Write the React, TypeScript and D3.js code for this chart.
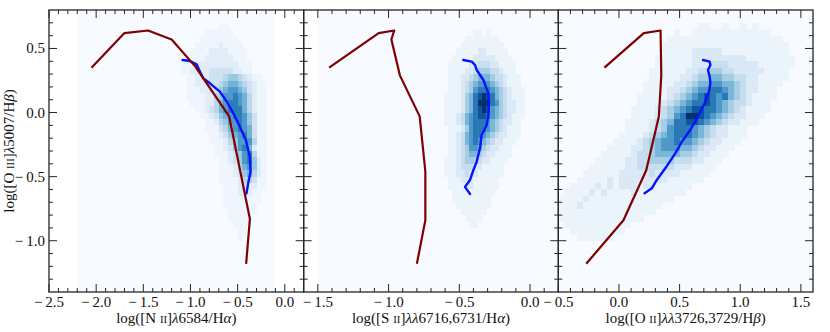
import React from "react";
import * as d3 from "d3";

// ---------------- data ----------------
const Y_DOMAIN = [-1.4, 0.8];
const Y_MAJOR = [-1.0, -0.5, 0.0, 0.5];

const XDOM_NII = [-2.5, 0.2];
const XDOM_SII = [-1.6, 0.2];
const XDOM_OII = [-0.5, 1.6];
const XMAJ_NII = [-2.5, -2.0, -1.5, -1.0, -0.5, 0.0];
const XMAJ_SII = [-1.5, -1.0, -0.5, 0.0];
const XMAJ_OII = [-0.5, 0.0, 0.5, 1.0, 1.5];

// photoionisation model tracks (dark red)
const NII_MODEL_X = [-2.05, -1.70, -1.45, -1.20, -0.95, -0.59, -0.37, -0.41];
const NII_MODEL_Y = [0.35, 0.62, 0.64, 0.57, 0.36, -0.03, -0.83, -1.18];
const SII_MODEL_X = [-1.42, -1.07, -0.96, -0.98, -0.92, -0.78, -0.74, -0.74, -0.80];
const SII_MODEL_Y = [0.35, 0.62, 0.64, 0.57, 0.29, -0.03, -0.46, -0.84, -1.18];
const OII_MODEL_X = [-0.12, 0.205, 0.343, 0.349, 0.329, 0.225, 0.037, -0.27];
const OII_MODEL_Y = [0.35, 0.62, 0.64, 0.29, -0.03, -0.45, -0.84, -1.18];

// running medians (blue)
const NII_MEDIAN_X = [-1.084, -1.006, -0.935, -0.908, -0.865, -0.794, -0.689, -0.611, -0.54, -0.477, -0.413, -0.371, -0.363, -0.385, -0.406];
const NII_MEDIAN_Y = [0.41, 0.402, 0.376, 0.332, 0.267, 0.228, 0.163, 0.08, -0.014, -0.11, -0.214, -0.344, -0.461, -0.539, -0.63];
const SII_MEDIAN_X = [-0.472, -0.412, -0.389, -0.377, -0.33, -0.299, -0.29, -0.295, -0.306, -0.342, -0.354, -0.377, -0.4, -0.424, -0.46, -0.424];
const SII_MEDIAN_Y = [0.41, 0.397, 0.371, 0.332, 0.254, 0.163, 0.072, -0.019, -0.097, -0.175, -0.279, -0.383, -0.448, -0.526, -0.58, -0.635];
const OII_MEDIAN_X = [0.693, 0.748, 0.754, 0.734, 0.748, 0.754, 0.742, 0.707, 0.643, 0.588, 0.519, 0.464, 0.382, 0.312, 0.271, 0.211];
const OII_MEDIAN_Y = [0.41, 0.397, 0.371, 0.332, 0.28, 0.228, 0.163, 0.072, -0.045, -0.136, -0.227, -0.318, -0.435, -0.526, -0.591, -0.63];

// 2-D histogram levels (0-9), rows from top (y0) downward, cols from x0
const NII_HEAT_X0 = -1.30, NII_HEAT_DX = 0.05, NII_HEAT_Y0 = 0.70, NII_HEAT_DY = 0.05;
const NII_HEAT_EXTENT = [-2.2, -0.1];
const NII_HEAT = [
  "000000000000110000000000",
  "000000000111111000000000",
  "000000001111111100000000",
  "000000011111211110000000",
  "000000111122221111000000",
  "000001111222222111000000",
  "000011122222222211100000",
  "000011222233333221100000",
  "000001122233345543211000",
  "000001122233456654321100",
  "000001112233567765321100",
  "000001111224577876421100",
  "000000111224678876421100",
  "000000011234678886421100",
  "000000001123567887531100",
  "000000000112457787531100",
  "000000000111346787631100",
  "000000000011235678631100",
  "000000000011124577741100",
  "000000000001123578621100",
  "000000000001112357841100",
  "000000000000112357852100",
  "000000000000111246752100",
  "000000000000111235642100",
  "000000000000111124431100",
  "000000000000011123221100",
  "000000000000011122211000",
  "000000000000011111111000",
  "000000000000011111110000",
  "000000000000001111110000",
  "000000000000001111100000",
  "000000000000000111100000",
  "000000000000000011000000",
  "000000000000000010000000",
];

const SII_HEAT_X0 = -0.70, SII_HEAT_DX = 0.03, SII_HEAT_Y0 = 0.70, SII_HEAT_DY = 0.05;
const SII_HEAT_EXTENT = [-1.5, 0.3];
const SII_HEAT = [
  "000000000000000000000000",
  "000000000011010000000000",
  "000000001111111100000000",
  "000000011111111110000000",
  "000000111112211111000000",
  "000001111122222111100000",
  "000011111223332211110000",
  "000011112234443321110000",
  "000011122345554332111000",
  "000011123456665432111000",
  "000011123467776543211100",
  "000111124578987543211100",
  "000111124579997643221100",
  "000111124578986543221100",
  "000111235678876543211100",
  "000111235677765432211000",
  "000011124677765432111000",
  "000011235677654322111000",
  "000011235676543221110000",
  "000011234665432211100000",
  "000011234554322111100000",
  "000111234443221111000000",
  "000111233322111110000000",
  "000111223221111110000000",
  "000011122211111100000000",
  "000011112211111100000000",
  "000001111111111000000000",
  "000001111111110000000000",
  "000000111111110000000000",
  "000000011111100000000000",
  "000000001111000000000000",
  "000000000110000000000000",
];

const OII_HEAT_X0 = -0.50, OII_HEAT_DX = 0.05, OII_HEAT_Y0 = 0.70, OII_HEAT_DY = 0.05;
const OII_HEAT_EXTENT = [-0.5, 1.6];
const OII_HEAT = [
  "0000000000000000000000011001001010000000",
  "0000000000000000000100111111111111100000",
  "0000000000000000001111111111111111111000",
  "0000000000000000011111111111111111111100",
  "0000000000000000011111222221111111111100",
  "0000000000000000111111222222222111111110",
  "0000000000000000111111222333222221111110",
  "0000000000000001111112233443322222111100",
  "0000000000000001111122344554433221111100",
  "0000000000000011111223455665543221111000",
  "0000000000000011112234566776543221110000",
  "0000000000000111112345678767543211110000",
  "0000000000000111123456778765433211100000",
  "0000000000001111234567887765432111100000",
  "0000000000001111234679987654322111000000",
  "0000000000011112345778876543221110000000",
  "0000000000011112346777654322111000000000",
  "0000000000111123456777654322111000000000",
  "0000000001111234566766543221110000000000",
  "0000000011112234566655432211100000000000",
  "0000000111112334555544322111000000000000",
  "0000001111122334444333221110000000000000",
  "0000011111122333333222111100000000000000",
  "0000111111222223222211111000000000000000",
  "0001111121222222221111110000000000000000",
  "0011112121222122111111000000000000000000",
  "0111121211112111111110000000000000000000",
  "1111211111111111111000000000000000000000",
  "1112111111111111100000000000000000000000",
  "1111111111111111000000000000000000000000",
  "1111111111111100000000000000000000000000",
  "0111111111110000000000000000000000000000",
  "0011111111100000000000000000000000000000",
  "0001111110000000000000000000000000000000",
];

// ---------------- layout ----------------
const W = 830, H = 332;
const TOP = 10, BOTTOM = 292;
const PANEL_LEFT = [49, 303.67, 558.33];
const PANEL_W = 254.67;
const FONT = "Liberation Serif";
const SPINE = "#262626";
const TICK_FS = 15;
const LABEL_FS = 15;

const fmt = (v: number) => (v < 0 ? "\u2212\u2009" : "") + Math.abs(v).toFixed(1);

function XLabel({ kind }: { kind: number }) {
  const sc = LABEL_FS * 0.72;
  if (kind === 0)
    return (
      <>
        log([N <tspan fontSize={sc}>II</tspan>]<tspan fontStyle="italic">λ</tspan>6584/H<tspan fontStyle="italic">α</tspan>)
      </>
    );
  if (kind === 1)
    return (
      <>
        log([S <tspan fontSize={sc}>II</tspan>]<tspan fontStyle="italic">λλ</tspan>6716,6731/H<tspan fontStyle="italic">α</tspan>)
      </>
    );
  return (
    <>
      log([O <tspan fontSize={sc}>II</tspan>]<tspan fontStyle="italic">λλ</tspan>3726,3729/H<tspan fontStyle="italic">β</tspan>)
    </>
  );
}

const PANELS = [
  {
    xDomain: XDOM_NII, xMajor: XMAJ_NII,
    modelX: NII_MODEL_X, modelY: NII_MODEL_Y, medX: NII_MEDIAN_X, medY: NII_MEDIAN_Y,
    heat: NII_HEAT, hx0: NII_HEAT_X0, hdx: NII_HEAT_DX, hy0: NII_HEAT_Y0, hdy: NII_HEAT_DY, ext: NII_HEAT_EXTENT,
    tmax: 0.82,
  },
  {
    xDomain: XDOM_SII, xMajor: XMAJ_SII,
    modelX: SII_MODEL_X, modelY: SII_MODEL_Y, medX: SII_MEDIAN_X, medY: SII_MEDIAN_Y,
    heat: SII_HEAT, hx0: SII_HEAT_X0, hdx: SII_HEAT_DX, hy0: SII_HEAT_Y0, hdy: SII_HEAT_DY, ext: SII_HEAT_EXTENT,
    tmax: 1.0,
  },
  {
    xDomain: XDOM_OII, xMajor: XMAJ_OII,
    modelX: OII_MODEL_X, modelY: OII_MODEL_Y, medX: OII_MEDIAN_X, medY: OII_MEDIAN_Y,
    heat: OII_HEAT, hx0: OII_HEAT_X0, hdx: OII_HEAT_DX, hy0: OII_HEAT_Y0, hdy: OII_HEAT_DY, ext: OII_HEAT_EXTENT,
    tmax: 1.0,
  },
];

function Panel({ i }: { i: number }) {
  const p = PANELS[i];
  const left = PANEL_LEFT[i];
  const right = left + PANEL_W;
  const x = d3.scaleLinear().domain(p.xDomain).range([left, right]);
  const y = d3.scaleLinear().domain(Y_DOMAIN).range([BOTTOM, TOP]);
  const level = d3.scalePow().exponent(1.3).domain([0, 9]).range([0, p.tmax]);
  const clipId = `clip-${i}`;

  const cells: JSX.Element[] = [];
  p.heat.forEach((row, r) => {
    for (let c = 0; c < row.length; c++) {
      const L = +row[c];
      if (!L) continue;
      const x0 = x(p.hx0 + c * p.hdx);
      const x1 = x(p.hx0 + (c + 1) * p.hdx);
      const y0 = y(p.hy0 - r * p.hdy);
      const y1 = y(p.hy0 - (r + 1) * p.hdy);
      cells.push(
        <rect key={`${r}-${c}`} x={x0} y={y0} width={x1 - x0 + 0.4} height={y1 - y0 + 0.4}
          fill={d3.interpolateBlues(Math.max(0.04, level(L)))} />
      );
    }
  });

  const path = (xs: number[], ys: number[]) =>
    d3.line<[number, number]>().x((d) => x(d[0])).y((d) => y(d[1]))(xs.map((v, k) => [v, ys[k]] as [number, number])) || "";

  const isMajor = (v: number, majors: number[]) => majors.some((m) => Math.abs(m - v) < 1e-6);
  const xMinor = d3.range(Math.round(p.xDomain[0] * 10) + 1, Math.round(p.xDomain[1] * 10))
    .map((k) => k / 10).filter((v) => !isMajor(v, p.xMajor));
  const yMinor = d3.range(Math.round(Y_DOMAIN[0] * 10) + 1, Math.round(Y_DOMAIN[1] * 10))
    .map((k) => k / 10).filter((v) => !isMajor(v, Y_MAJOR));
  const MAJ = 8, MIN = 4;

  return (
    <g>
      <defs>
        <clipPath id={clipId}>
          <rect x={left} y={TOP} width={PANEL_W} height={BOTTOM - TOP} />
        </clipPath>
      </defs>
      <g clipPath={`url(#${clipId})`}>
        <rect x={x(p.ext[0])} y={TOP} width={x(p.ext[1]) - x(p.ext[0])} height={BOTTOM - TOP}
          fill={d3.interpolateBlues(0)} />
        <g shapeRendering="crispEdges">{cells}</g>
        <path d={path(p.medX, p.medY)} fill="none" stroke="#0514ff" strokeWidth={2.4}
          strokeLinejoin="round" strokeLinecap="round" />
        <path d={path(p.modelX, p.modelY)} fill="none" stroke="#7f0000" strokeWidth={2.2}
          strokeLinejoin="round" strokeLinecap="butt" />
      </g>
      {/* ticks */}
      <g stroke={SPINE} strokeWidth={1}>
        {p.xMajor.map((v) => (
          <g key={`xM${v}`}>
            <line x1={x(v)} x2={x(v)} y1={BOTTOM} y2={BOTTOM - MAJ} />
            <line x1={x(v)} x2={x(v)} y1={TOP} y2={TOP + MAJ} />
          </g>
        ))}
        {xMinor.map((v) => (
          <g key={`xm${v}`}>
            <line x1={x(v)} x2={x(v)} y1={BOTTOM} y2={BOTTOM - MIN} />
            <line x1={x(v)} x2={x(v)} y1={TOP} y2={TOP + MIN} />
          </g>
        ))}
        {Y_MAJOR.map((v) => (
          <g key={`yM${v}`}>
            <line x1={left} x2={left + MAJ} y1={y(v)} y2={y(v)} />
            <line x1={right} x2={right - MAJ} y1={y(v)} y2={y(v)} />
          </g>
        ))}
        {yMinor.map((v) => (
          <g key={`ym${v}`}>
            <line x1={left} x2={left + MIN} y1={y(v)} y2={y(v)} />
            <line x1={right} x2={right - MIN} y1={y(v)} y2={y(v)} />
          </g>
        ))}
      </g>
      <rect x={left} y={TOP} width={PANEL_W} height={BOTTOM - TOP} fill="none" stroke={SPINE} strokeWidth={1.3} />
      {/* tick labels */}
      <g fontSize={TICK_FS} fill="#111" textAnchor="middle">
        {p.xMajor.map((v) => (
          <text key={`xl${v}`} x={x(v)} y={306.5}>{fmt(v)}</text>
        ))}
      </g>
      {i === 0 && (
        <g fontSize={TICK_FS} fill="#111" textAnchor="end">
          {Y_MAJOR.map((v) => (
            <text key={`yl${v}`} x={45} y={y(v) + 5}>{fmt(v)}</text>
          ))}
        </g>
      )}
      <text x={(left + right) / 2} y={322.5} fontSize={LABEL_FS} textAnchor="middle" fill="#111">
        <XLabel kind={i} />
      </text>
    </g>
  );
}

export default function App() {
  return (
    <svg width={W} height={H} viewBox={`0 0 ${W} ${H}`} fontFamily={FONT}
      style={{ position: "absolute", left: 0, top: 0, background: "#fff" }}>
      <rect x={0} y={0} width={W} height={H} fill="#fff" />
      {[0, 1, 2].map((i) => (
        <Panel key={i} i={i} />
      ))}
      <text transform={`translate(14,151) rotate(-90)`} fontSize={LABEL_FS} textAnchor="middle" fill="#111">
        log([O <tspan fontSize={LABEL_FS * 0.72}>III</tspan>]<tspan fontStyle="italic">λ</tspan>5007/H<tspan fontStyle="italic">β</tspan>)
      </text>
    </svg>
  );
}
